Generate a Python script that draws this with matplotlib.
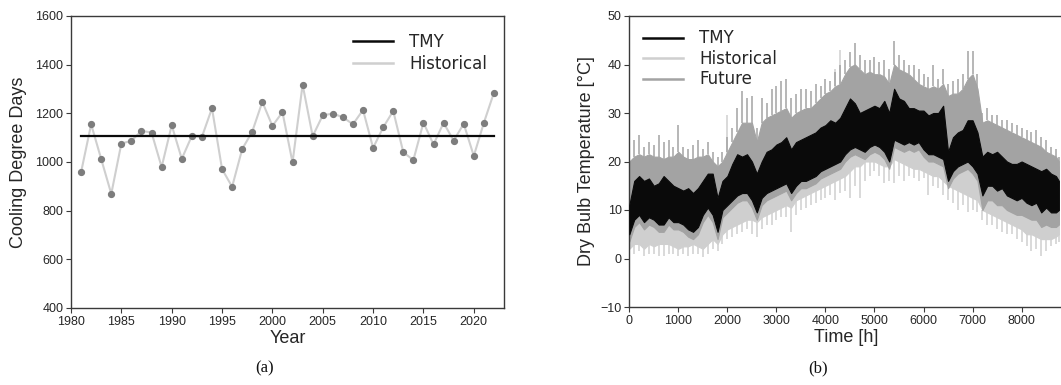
import matplotlib
matplotlib.use('Agg')
import matplotlib.pyplot as plt
from matplotlib.lines import Line2D

# (a) cooling degree days per year
years = list(range(1981, 2023))
cdd_hist = [958, 1155, 1012, 869, 1076, 1087, 1128, 1121, 979, 1151,
            1013, 1107, 1103, 1221, 971, 898, 1053, 1125, 1247, 1148,
            1205, 998, 1318, 1106, 1192, 1199, 1184, 1155, 1214, 1058,
            1142, 1210, 1040, 1008, 1162, 1072, 1161, 1088, 1157, 1025,
            1161, 1285]
cdd_tmy = 1106

hours = list(range(0, 8800, 100)) + [8760]

tmy_hi = [11, 16, 17, 16, 16.5, 15, 15.5, 17, 16, 15,
          14.5, 14, 14.5, 13.5, 14.5, 16, 17.5, 17.5, 12.5, 16,
          17, 19.5, 21.5, 21, 21.5, 20, 17.5, 20, 22, 22.5,
          23.5, 24, 25, 22.5, 24, 24.5, 25, 25.5, 26, 27,
          27.5, 28.5, 28, 29, 31, 33, 32, 30, 30.5, 31,
          31.5, 31, 32.5, 30, 35, 33, 32.5, 31, 31, 30.5,
          30.5, 29.5, 30, 30, 31.5, 22, 25, 26, 26.5, 28.5,
          28.5, 26, 21, 22, 21.5, 22, 21, 20, 19.5, 19.5,
          20, 19.5, 19, 18.5, 18, 18.5, 17.5, 17,
          16]
tmy_lo = [5, 8, 9, 7.5, 8.5, 8, 7, 7, 8.5, 7.5,
          7.5, 7, 6, 5.5, 6.5, 9, 10.5, 9, 5.5, 10,
          11, 12, 13, 13.5, 13.5, 12, 9.5, 12.5, 13.5, 14,
          14.5, 15, 15.5, 13.5, 15, 16, 16, 16.5, 17, 18,
          18.5, 19, 19.5, 20, 21.5, 22.5, 23, 22.5, 22, 23,
          23.5, 23, 22, 20, 24.5, 24, 23.5, 24, 23.5, 24,
          22.5, 21.5, 21.5, 21, 20.5, 16, 18, 19, 19.5, 20,
          19, 17.5, 13, 15, 15, 14, 14.5, 13, 12.5, 12,
          12.5, 11.5, 11, 11.5, 9.5, 10.5, 9.5, 9.5,
          10]

fut_hi = [20, 21, 21.5, 21, 21.5, 21, 21, 20.5, 21, 21,
          22, 21, 20.5, 20.5, 21, 21, 21.5, 20, 19, 20,
          22, 24, 26, 28, 28, 28, 24, 28, 29, 29.5,
          30, 30.5, 31, 29, 30, 30.5, 31, 31, 32, 33,
          34, 34.5, 35.5, 36, 38, 39.5, 40, 39, 38, 38.5,
          38, 38, 37.5, 36, 40, 39, 38.5, 38, 37, 36,
          35.5, 35, 35.5, 35, 36, 33.5, 34, 34, 35, 37,
          38, 35, 28, 28.5, 28, 27.5, 27, 26.5, 26, 25.5,
          25, 24.5, 24, 23.5, 23, 22, 21.5, 21,
          20]
fut_peak = [22, 24.5, 25.5, 23, 24, 23.5, 25.5, 24, 24.5, 23,
            27.5, 23, 22.5, 23.5, 24.5, 22.5, 24, 22, 21, 22,
            25, 27, 31, 34.5, 33, 33.5, 27, 33, 32, 35,
            35.5, 36.5, 37, 33, 34, 35, 35, 34.5, 36, 35.5,
            37, 36.5, 38.5, 40, 41, 42.5, 44.5, 42, 41, 41,
            41.5, 40.5, 41, 39, 44.8, 42, 41, 40, 40, 39,
            38, 37.5, 40, 37, 39, 36, 36.5, 37, 38, 42.8,
            42.8, 38, 30, 31, 29.5, 29.5, 28.5, 28.5, 28, 27.5,
            27, 26.5, 26, 26.5, 25, 24.5, 23, 22.5,
            21]
fut_lo = [3.5, 6.5, 7.5, 6, 7, 6.5, 5.5, 5.5, 7, 6,
          6, 5.5, 4.5, 4, 5, 7.5, 9, 7.5, 4, 8.5,
          9.5, 10.5, 11.5, 12, 12, 10.5, 8, 11, 12, 12.5,
          13, 13.5, 14, 12, 13.5, 14.5, 14.5, 15, 15.5, 16.5,
          17, 17.5, 18, 18.5, 20, 21, 21.5, 21, 20.5, 21.5,
          22, 21.5, 20.5, 18.5, 23, 22.5, 22, 22.5, 22, 22.5,
          21, 20, 20, 19.5, 19, 14.5, 16.5, 17.5, 18, 18.5,
          17.5, 16, 10, 12, 12, 11, 11, 10, 9.5, 9,
          9, 8.5, 8, 8, 6.5, 7, 6.5, 6.5,
          7]

hist_hi = [14, 19, 20, 19, 19.5, 18, 18.5, 20, 19, 18,
           17.5, 17, 17.5, 16.5, 17.5, 19, 20.5, 19.5, 15.5, 19,
           20, 22.5, 24.5, 24, 24.5, 23, 20.5, 23, 25, 25.5,
           26.5, 27, 28, 25.5, 27, 27.5, 28, 28.5, 29, 30,
           31, 32, 33, 33, 34, 36, 35, 33, 33.5, 34,
           34.5, 34, 35.5, 33, 38, 36, 35.5, 34, 34, 33.5,
           33.5, 32.5, 33, 33, 34, 25, 28, 29, 29.5, 31.5,
           31.5, 29, 24, 25, 24.5, 25, 24, 23, 22.5, 22.5,
           23, 22.5, 22, 21.5, 21, 21.5, 20.5, 20,
           19]
hist_lo = [2, 3, 3, 2, 3, 2.5, 3, 3, 3, 2.5,
           2, 2.5, 2.5, 3, 2.5, 2, 3, 4, 3, 5,
           6, 6.5, 7, 7.5, 8, 8, 7.5, 8.5, 9, 9.5,
           10, 10.5, 11, 10.5, 12, 12.5, 13, 13.5, 14, 14.5,
           15, 15.5, 16, 16.5, 17, 18, 19, 19, 20, 20,
           20, 19.5, 19, 19, 20.5, 20, 19.5, 19, 18.5, 18.5,
           18, 17.5, 17, 17, 16, 15, 14.5, 14, 13.5, 13,
           12.5, 12, 10, 9.5, 9, 8.5, 8, 7.5, 7, 6.5,
           6, 5, 5, 4.5, 4, 4, 4, 4.5,
           5]
hist_dip = [0.5, 1, 1.5, 0.5, 1, 1, 0.5, 0.5, 1, 1,
            0.5, 1, 0.5, 1, 1, 0.3, 1, 2, 1.5, 3,
            4, 4.5, 5, 5.5, 6, 5, 4.5, 6, 7, 7,
            8, 8.5, 8.5, 5.5, 9, 10, 10.5, 11, 11.5, 12,
            12.5, 13, 12, 13.5, 14, 12.5, 15, 12.5, 16, 17,
            18, 17, 15.5, 16, 15.5, 17, 16, 17, 16.5, 16,
            16.5, 13, 15, 14.5, 13, 12, 11.5, 10, 11, 9.5,
            10, 9.5, 8, 7, 7, 6, 5.5, 5, 5, 4,
            3.5, 2.5, 1.5, 2, 0.5, 1.5, 2.5, 3,
            3.5]
# a few historical spikes that show above the future trace
hist_spike_t = [2000, 4200, 4300]
hist_spike_hi = [20, 33, 33]
hist_spike_top = [29.5, 39, 43]

c_tmy = '#0a0a0a'
c_hist = '#cfcfcf'
c_fut = '#a3a3a3'
ink = '#262626'

plt.rcParams['font.family'] = ['Liberation Sans', 'DejaVu Sans']
plt.rcParams['axes.edgecolor'] = '#3a3a3a'
plt.rcParams['axes.linewidth'] = 1.0
plt.rcParams['xtick.color'] = '#3a3a3a'
plt.rcParams['ytick.color'] = '#3a3a3a'
plt.rcParams['xtick.labelcolor'] = ink
plt.rcParams['ytick.labelcolor'] = ink
plt.rcParams['xtick.major.size'] = 3.5
plt.rcParams['ytick.major.size'] = 3.5

fig = plt.figure(figsize=(10.61, 3.85), dpi=100)

# ---- (a) ----
ax1 = fig.add_axes([71 / 1061, 77 / 385, 433 / 1061, 292 / 385])
ax1.plot(years, cdd_hist, color=c_hist, lw=1.5, zorder=2)
ax1.plot(years, cdd_hist, 'o', color='#7d7d7d', ms=4.2, zorder=3)
ax1.plot([years[0], years[-1]], [cdd_tmy, cdd_tmy], color=c_tmy, lw=1.6, zorder=4)
ax1.set_xlim(1980, 2023)
ax1.set_ylim(400, 1600)
ax1.set_xticks(range(1980, 2021, 5))
ax1.set_yticks(range(400, 1601, 200))
ax1.tick_params(labelsize=9, pad=2)
ax1.set_xlabel('Year', fontsize=13, color=ink, labelpad=2)
ax1.set_ylabel('Cooling Degree Days', fontsize=13, color=ink, labelpad=6)
h1 = [Line2D([], [], color=c_tmy, lw=1.8), Line2D([], [], color=c_hist, lw=1.8)]
ax1.legend(h1, ['TMY', 'Historical'], loc='upper right', frameon=False,
           prop={'family': 'DejaVu Sans', 'size': 12}, labelspacing=0.25,
           handlelength=2.4, handletextpad=1.0, borderaxespad=0.6,
           labelcolor=ink)

# ---- (b) ----
ax2 = fig.add_axes([629.3 / 1061, 78 / 385, 433.5 / 1061, 291 / 385])
ax2.fill_between(hours, hist_lo, hist_hi, color=c_hist, lw=0.8, zorder=1)
ax2.vlines(hours, hist_dip, hist_lo, color=c_hist, lw=1.1, zorder=1)
ax2.vlines(hist_spike_t, hist_spike_hi, hist_spike_top, color=c_hist, lw=1.1, zorder=1)
ax2.fill_between(hours, fut_lo, fut_hi, color=c_fut, lw=0.8, zorder=2)
ax2.vlines(hours, fut_hi, fut_peak, color=c_fut, lw=1.1, zorder=2)
ax2.fill_between(hours, tmy_lo, tmy_hi, color=c_tmy, lw=0.8, zorder=3)
ax2.set_xlim(0, 8840)
ax2.set_ylim(-10, 50)
ax2.set_xticks(range(0, 8001, 1000))
ax2.set_yticks(range(-10, 51, 10))
ax2.spines['right'].set_visible(False)
ax2.tick_params(labelsize=9, pad=2)
ax2.set_xlabel('Time [h]', fontsize=13, color=ink, labelpad=2)
ax2.set_ylabel('Dry Bulb Temperature [°C]', fontsize=13, color=ink, labelpad=4)
h2 = [Line2D([], [], color=c_tmy, lw=1.8), Line2D([], [], color=c_hist, lw=1.8),
      Line2D([], [], color=c_fut, lw=1.8)]
ax2.legend(h2, ['TMY', 'Historical', 'Future'], loc='upper left', frameon=False,
           prop={'family': 'DejaVu Sans', 'size': 12}, labelspacing=0.15,
           handlelength=2.4, handletextpad=1.0, borderaxespad=0.4,
           labelcolor=ink)

fig.text(265 / 1061, 1 - 368 / 385, '(a)', ha='center', va='center',
         family='Liberation Serif', fontsize=12, color='#111111')
fig.text(818 / 1061, 1 - 368 / 385, '(b)', ha='center', va='center',
         family='Liberation Serif', fontsize=12, color='#111111')

fig.savefig('out.png', dpi=100)
